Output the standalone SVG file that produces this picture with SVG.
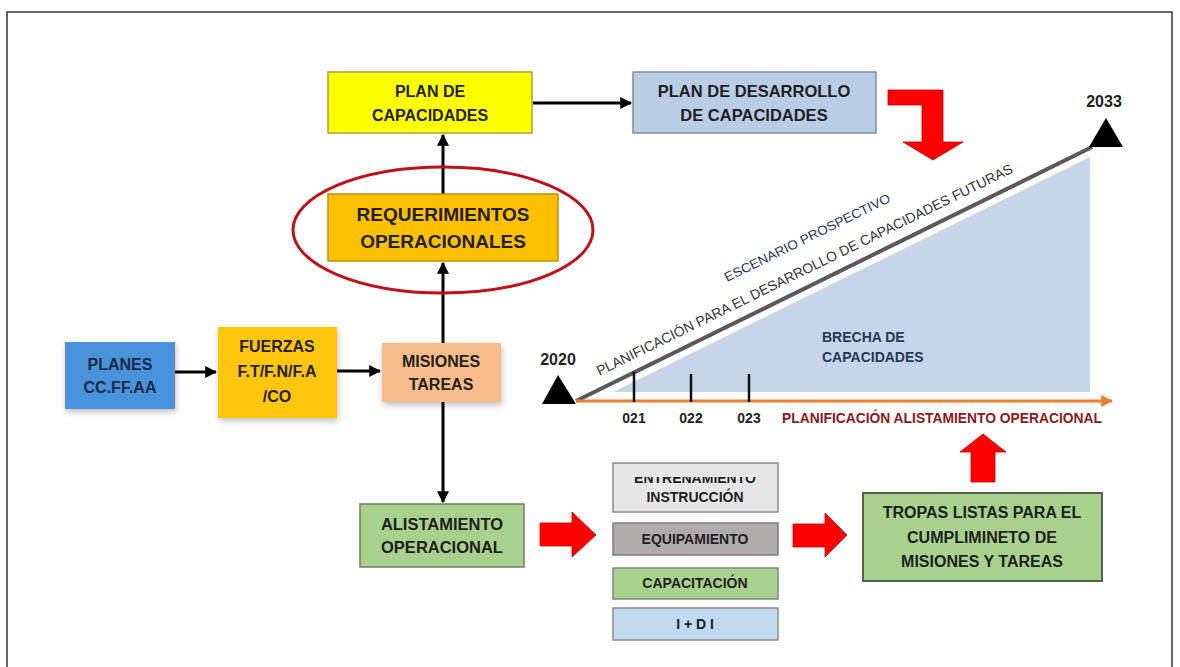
<svg xmlns="http://www.w3.org/2000/svg" width="1180" height="667" viewBox="0 0 1180 667">
<style>
.t{font-family:"Liberation Sans",Arial,sans-serif;font-weight:700;fill:#1f1f1f;text-anchor:middle}
.box{stroke-width:1.5}
.conn{stroke:#000;stroke-width:3;fill:none}
.red{fill:#ff0000;stroke:#c00000;stroke-width:0.8}
.diag{font-family:"Liberation Sans",Arial,sans-serif;fill:#333}
</style>
<defs>
<marker id="ah" viewBox="0 0 10 10" refX="9" refY="5" markerWidth="4" markerHeight="4" orient="auto" markerUnits="strokeWidth">
<path d="M0,0 L10,5 L0,10 z" fill="#000"/>
</marker>
<marker id="oh" viewBox="0 0 10 10" refX="9" refY="5" markerWidth="4" markerHeight="4" orient="auto" markerUnits="strokeWidth">
<path d="M0,0 L10,5 L0,10 z" fill="#ed7d31"/>
</marker>
<filter id="sh" x="-20%" y="-20%" width="140%" height="150%">
<feDropShadow dx="1" dy="3" stdDeviation="3" flood-color="#000" flood-opacity="0.25"/>
</filter>
<clipPath id="clipE"><rect x="613" y="477" width="165" height="10"/></clipPath>
</defs>
<rect width="1180" height="667" fill="#fff"/>
<rect x="7" y="12" width="1165" height="670" fill="none" stroke="#333" stroke-width="1.5"/>

<!-- timeline scene -->
<g id="timeline">
<polygon points="613,392 1090,157 1090,392" fill="#c7d5e9"/>
<line x1="576" y1="401" x2="1092" y2="147" stroke="#595959" stroke-width="4"/>
<line x1="576" y1="401" x2="1112" y2="401" stroke="#ed7d31" stroke-width="3" marker-end="url(#oh)"/>
<line x1="634" y1="372" x2="634" y2="402" stroke="#111" stroke-width="2.5"/>
<line x1="691" y1="374" x2="691" y2="402" stroke="#111" stroke-width="2.5"/>
<line x1="749" y1="374" x2="749" y2="402" stroke="#111" stroke-width="2.5"/>
<polygon points="558,375 542,404 576,404" fill="#000"/>
<polygon points="1106,118 1089,147 1123,147" fill="#000"/>
<text class="t" x="558" y="365" font-size="16">2020</text>
<text class="t" x="1104" y="107" font-size="16">2033</text>
<text class="t" x="634" y="423" font-size="14">021</text>
<text class="t" x="691" y="423" font-size="14">022</text>
<text class="t" x="749" y="423" font-size="14">023</text>
<text class="t" x="782" y="423" font-size="14" style="text-anchor:start;fill:#8b1a1a" textLength="320" lengthAdjust="spacingAndGlyphs">PLANIFICACIÓN ALISTAMIENTO OPERACIONAL</text>
<g transform="translate(576,401) rotate(-26.2)">
<text class="diag" x="32" y="-12" font-size="14" textLength="462" lengthAdjust="spacingAndGlyphs">PLANIFICACIÓN PARA EL DESARROLLO DE CAPACIDADES FUTURAS</text>
<text class="diag" x="188" y="-40" font-size="13" style="fill:#1f3864" textLength="183" lengthAdjust="spacingAndGlyphs">ESCENARIO PROSPECTIVO</text>
</g>
<text class="t" x="822" y="342" font-size="14" style="text-anchor:start;fill:#253856">BRECHA DE</text>
<text class="t" x="822" y="362" font-size="14" style="text-anchor:start;fill:#253856">CAPACIDADES</text>
</g>

<!-- connectors -->
<g id="connectors">
<line class="conn" x1="175" y1="372" x2="216" y2="372" marker-end="url(#ah)"/>
<line class="conn" x1="337" y1="371" x2="380" y2="371" marker-end="url(#ah)"/>
<line class="conn" x1="443" y1="343" x2="443" y2="263" marker-end="url(#ah)"/>
<line class="conn" x1="443" y1="194" x2="443" y2="135" marker-end="url(#ah)"/>
<line class="conn" x1="533" y1="103" x2="631" y2="103" marker-end="url(#ah)"/>
<line class="conn" x1="443" y1="402" x2="443" y2="502" marker-end="url(#ah)"/>
<polygon class="red" points="888,90 943,90 943,142 963,142 933,160 903,142 922,142 922,105 888,105"/>
<polygon class="red" points="540,523 572,523 572,512 596,535 572,557 572,546 540,546"/>
<polygon class="red" points="793,524 825,524 825,513 847,535 825,557 825,547 793,547"/>
<polygon class="red" points="971,482 971,452 960,452 983,434 1006,452 995,452 995,482"/>
</g>

<g id="plan-capacidades">
<rect class="box" x="328" y="72" width="204" height="61" fill="#ffff00" stroke="#a3a33c"/>
<text class="t" x="430" y="97" font-size="16">PLAN DE</text>
<text class="t" x="430" y="121" font-size="16">CAPACIDADES</text>
</g>
<g id="plan-desarrollo">
<rect class="box" x="633" y="72" width="243" height="61" fill="#b9cde5" stroke="#7f8ea3"/>
<text class="t" x="754" y="97" font-size="16.5">PLAN DE DESARROLLO</text>
<text class="t" x="754" y="121" font-size="16.5">DE CAPACIDADES</text>
</g>
<g id="requerimientos">
<rect class="box" x="328" y="194" width="230" height="67" fill="#ffc000" stroke="#bf9000"/>
<text class="t" x="443" y="221" font-size="19">REQUERIMIENTOS</text>
<text class="t" x="443" y="248" font-size="19">OPERACIONALES</text>
<ellipse cx="443" cy="230" rx="150" ry="63" fill="none" stroke="#c0101a" stroke-width="3"/>
</g>
<g id="planes">
<rect x="65" y="342" width="110" height="67" fill="#4a92dc" filter="url(#sh)"/>
<text class="t" x="120" y="370" font-size="16" style="fill:#1c2a44">PLANES</text>
<text class="t" x="120" y="393" font-size="16" style="fill:#1c2a44">CC.FF.AA</text>
</g>
<g id="fuerzas">
<rect x="218" y="327" width="119" height="91" fill="#ffc60b" filter="url(#sh)"/>
<text class="t" x="277" y="352" font-size="16">FUERZAS</text>
<text class="t" x="277" y="377" font-size="16">F.T/F.N/F.A</text>
<text class="t" x="277" y="402" font-size="16">/CO</text>
</g>
<g id="misiones">
<rect x="382" y="343" width="119" height="59" fill="#f6bd8a" filter="url(#sh)"/>
<text class="t" x="441" y="367" font-size="16">MISIONES</text>
<text class="t" x="441" y="390" font-size="16">TAREAS</text>
</g>
<g id="alistamiento">
<rect class="box" x="360" y="504" width="164" height="63" fill="#a9d18e" stroke="#6f7f66"/>
<text class="t" x="442" y="530" font-size="16.5">ALISTAMIENTO</text>
<text class="t" x="442" y="553" font-size="16.5">OPERACIONAL</text>
</g>
<g id="entrenamiento">
<rect class="box" x="613" y="463" width="165" height="49" fill="#e7e6e6" stroke="#8c8c8c"/>
<text class="t" x="695" y="483" font-size="14" clip-path="url(#clipE)">ENTRENAMIENTO</text>
<text class="t" x="695" y="502" font-size="14">INSTRUCCIÓN</text>
</g>
<g id="equipamiento">
<rect class="box" x="613" y="523" width="165" height="32" fill="#b0acac" stroke="#7f7f7f"/>
<text class="t" x="695" y="544" font-size="14">EQUIPAMIENTO</text>
</g>
<g id="capacitacion">
<rect class="box" x="613" y="568" width="165" height="31" fill="#a9d18e" stroke="#7f8a7a"/>
<text class="t" x="695" y="588" font-size="14">CAPACITACIÓN</text>
</g>
<g id="idi">
<rect class="box" x="613" y="608" width="165" height="32" fill="#c2daf0" stroke="#8c8c8c"/>
<text class="t" x="695" y="629" font-size="14">I + D I</text>
</g>
<g id="tropas">
<rect x="863" y="493" width="239" height="88" fill="#a9d18e" stroke="#56624f" stroke-width="2"/>
<text class="t" x="982" y="518" font-size="16">TROPAS LISTAS PARA EL</text>
<text class="t" x="982" y="543" font-size="16">CUMPLIMINETO DE</text>
<text class="t" x="982" y="567" font-size="16">MISIONES Y TAREAS</text>
</g>
</svg>
